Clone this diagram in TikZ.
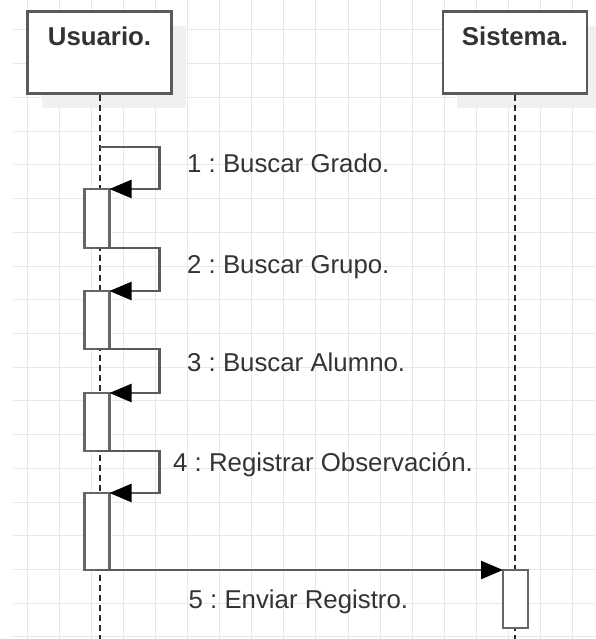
\documentclass[tikz,border=0pt]{standalone}
\usepackage{fontspec}
\setmainfont{Liberation Sans}
\frenchspacing
\usetikzlibrary{arrows.meta, shadows, positioning}
\definecolor{gridgray}{HTML}{E8E8E8}
\definecolor{linegray}{HTML}{5A5A5A}
\definecolor{actgray}{HTML}{666666}
\definecolor{lifegray}{HTML}{2A2A2A}
\definecolor{shadowgray}{HTML}{F0F0F0}
\definecolor{textgray}{HTML}{333333}

\begin{document}
\begin{tikzpicture}[x=1pt, y=-1pt,
		gridline/.style={draw=gridgray, line width=1pt},
		actor/.style={draw=linegray, line width=2.5pt, fill=white, minimum width=144pt, minimum height=82pt,
			drop shadow={shadow xshift=14pt, shadow yshift=-15pt, fill=shadowgray, opacity=1}},
		title/.style={anchor=base, inner sep=0pt, yshift=-35.7pt, text=textgray, font=\fontsize{25.8}{31}\selectfont\bfseries},
		lifeline/.style={draw=lifegray, line width=2pt, dash pattern=on 6pt off 4pt},
		act/.style={draw=actgray, line width=2.5pt, fill=white, minimum width=25pt, inner sep=0pt, outer sep=0pt},
		msg/.style={draw=linegray, line width=2.5pt, -{Triangle[length=22pt, width=18pt, color=black]}},
		lbl/.style={anchor=base west, inner sep=0pt, text=textgray, font=\fontsize{25.8}{31}\selectfont}]
		\useasboundingbox (0,0) rectangle (595,639);
		\foreach \i in {0,...,17} \draw[gridline] ({27.5+32.05*\i},0) -- ({27.5+32.05*\i},639);
		\foreach \j in {0,...,18} \draw[gridline] (13,{30+33.72*\j}) -- (595,{30+33.72*\j});

		\node[actor, label={[title]north:Usuario.}] 	(usuario) 	at (99.5,52.5) 	{};
		\node[actor, label={[title]north:Sistema.}] 	(sistema) 	at (515,52.5) 	{};
		\coordinate (u_end) at (usuario.south |- 0,639);
		\coordinate (s_end) at (sistema.south |- 0,639);
		\draw[lifeline] (usuario.south) -- (u_end);
		\draw[lifeline] (sistema.south) -- (s_end);

		\node[act, minimum height=59pt] 	(act_1) 	at (97,218.5) 	{};
		\node[act, minimum height=58pt] 	(act_2) 	at (97,320) 	{};
		\node[act, minimum height=58pt] 	(act_3) 	at (97,422) 	{};
		\node[act, minimum height=77pt] 	(act_4) 	at (97,531.5) 	{};
		\node[act, minimum height=58pt] 	(act_5) 	at (515.5,599) 	{};

		\coordinate (m_1) at (99.5,147);
		\draw[msg] (m_1) -| ([xshift=50pt]act_1.north east) -- (act_1.north east);
		\draw[msg] (act_1.south) -| ([xshift=50pt]act_2.north east) -- (act_2.north east);
		\draw[msg] (act_2.south) -| ([xshift=50pt]act_3.north east) -- (act_3.north east);
		\draw[msg] (act_3.south) -| ([xshift=50pt]act_4.north east) -- (act_4.north east);
		\draw[msg] (act_4.south) -- (act_5.north west);

		\node[lbl] (l_1) at (187,172) 	{1 : Buscar Grado.};
		\node[lbl] (l_2) at (187,273.3) {2 : Buscar Grupo.};
		\node[lbl] (l_3) at (187,371) 	{3 : Buscar Alumno.};
		\node[lbl] (l_4) at (173,471.7) {4 : Registrar Observación.};
		\node[lbl] (l_5) at (188.5,608.5) {5 : Enviar Registro.};
\end{tikzpicture}
\end{document}
